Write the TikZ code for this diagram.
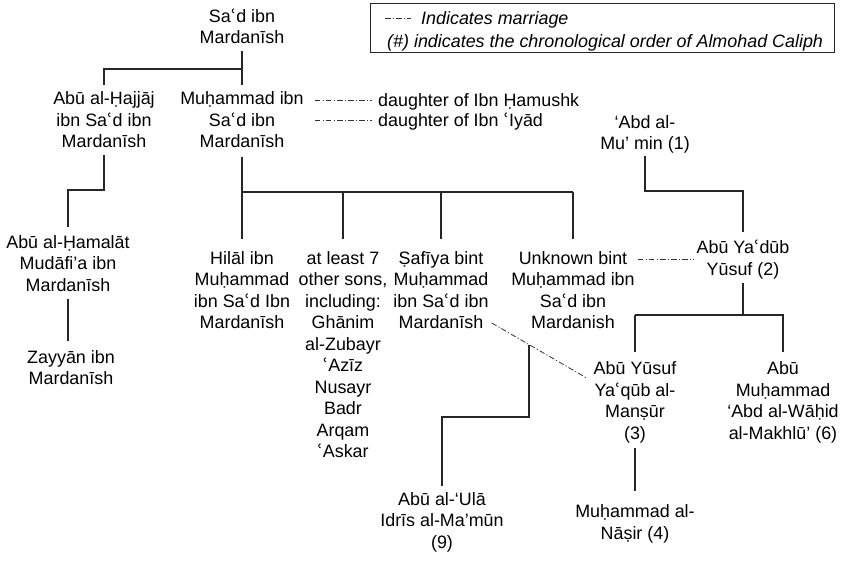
\documentclass[tikz,border=0pt]{standalone}
\usepackage{fontspec}
\setmainfont{Liberation Sans}
\newfontfamily\dvfont{DejaVu Sans}
\usetikzlibrary{calc}
\newcommand\ayn{{\dvfont\symbol{"02BF}}}
\begin{document}
\begin{tikzpicture}[x=1pt,y=-1pt,
  every node/.style={font=\fontsize{17.9}{21.5}\selectfont, text=black, align=center, inner sep=0pt, text depth=0pt},
  tree/.style={line width=1.2pt, draw=black!85},
  marr/.style={line width=0.8pt, draw=black!80, dash pattern=on 5.5pt off 2.2pt on 1.2pt off 2.2pt}]
\useasboundingbox (0,0) rectangle (844,562);

% legend
\node[draw=black!85, line width=1pt, minimum width=464pt, minimum height=49pt, anchor=north west] (legend) at (370,3) {};
\coordinate (lg1) at (385,18);
\coordinate (lg2) at (411,18);
\draw[marr] (lg1) -- (lg2);
\node[anchor=west] (lt1) at (421,18) {\itshape Indicates marriage};
\node[anchor=west] (lt2) at (387,41) {\itshape (\#) indicates the chronological order of Almohad Caliph};

% people
\node (sad) at (242,26) {Sa\ayn d ibn\\Mardanīsh};
\node (hajjaj) at (104,120) {Abū al-Ḥajjāj\\ibn Sa\ayn d ibn\\Mardanīsh};
\node (muh) at (242,120) {Muḥammad ibn\\Sa\ayn d ibn\\Mardanīsh};
\node[anchor=west] (d1) at (378,100) {daughter of Ibn Ḥamushk};
\node[anchor=west] (d2) at (378,120) {daughter of Ibn \ayn Iyād};
\node (abd) at (645,132.5) {‘Abd al-\\Mu’ min (1)};
\node (yusuf) at (743,257.5) {Abū Ya\ayn dūb\\Yūsuf (2)};
\node (hamalat) at (68,263.5) {Abū al-Ḥamalāt\\Mudāfi’a ibn\\Mardanīsh};
\node (zayyan) at (71,367.5) {Zayyān ibn\\Mardanīsh};
\node (hilal) at (242,290) {Hilāl ibn\\Muḥammad\\ibn Sa\ayn d Ibn\\Mardanīsh};
\node (sons) at (343,354.75) {at least 7\\other sons,\\including:\\Ghānim\\al-Zubayr\\\ayn Azīz\\Nusayr\\Badr\\Arqam\\\ayn Askar};
\node (safiya) at (441,290) {Ṣafīya bint\\Muḥammad\\ibn Sa\ayn d ibn\\Mardanīsh};
\node (unknown) at (573,290) {Unknown bint\\Muḥammad ibn\\Sa\ayn d ibn\\Mardanish};
\node (mansur) at (635,400.5) {Abū Yūsuf\\Ya\ayn qūb al-\\Manṣūr\\(3)};
\node (wahid) at (783,400.5) {Abū\\Muḥammad\\‘Abd al-Wāḥid\\al-Makhlū’ (6)};
\node (nasir) at (635,522) {Muḥammad al-\\Nāṣir (4)};
\node (idris) at (442,520.5) {Abū al-‘Ulā\\Idrīs al-Ma’mūn\\(9)};

% row levels
\coordinate (r1) at (0,69);
\coordinate (r2) at (0,190);
\coordinate (r3) at (0,192);
\coordinate (r4) at (0,191);
\coordinate (r5) at (0,259);
\coordinate (r6) at (0,315);
\coordinate (r7) at (0,417);

% descent lines
\draw[tree, shorten <=7pt, shorten >=6.5pt] (sad.south) -- (muh.north);
\draw[tree, shorten <=6.5pt] (hajjaj.north) |- (muh.north |- r1);
\draw[tree, shorten <=7pt, shorten >=8.5pt] (hajjaj.south) |- (hamalat.north |- r2) -- (hamalat.north);
\draw[tree, shorten <=7.75pt, shorten >=8.75pt] (hamalat.south) -- (hamalat.south |- zayyan.north);
\draw[tree, shorten <=8.5pt, shorten >=12.5pt] (muh.south) -- (hilal.north);
\draw[tree] (muh.south |- r3) -- (unknown.north |- r3);
\draw[tree, shorten >=12.5pt] (sons.north |- r3) -- (sons.north);
\draw[tree, shorten >=12.5pt] (safiya.north |- r3) -- (safiya.north);
\draw[tree, shorten >=12.5pt] (unknown.north |- r3) -- (unknown.north);
\draw[tree, shorten <=6pt, shorten >=7.75pt] (abd.south) |- (yusuf.north |- r4) -- (yusuf.north);
\draw[tree, shorten <=7.75pt] (yusuf.south) -- (yusuf.south |- r6);
\draw[tree, shorten >=9.75pt] (mansur.north |- r6) -| (wahid.north);
\draw[tree, shorten >=9.75pt] (mansur.north |- r6) -- (mansur.north);
\draw[tree, shorten <=8.75pt, shorten >=13.75pt] (mansur.south) -- (nasir.north);

% marriages
\draw[marr, shorten <=11pt, shorten >=6pt] (muh.east |- d1.west) -- (d1.west);
\draw[marr, shorten <=11pt, shorten >=6pt] (muh.east |- d2.west) -- (d2.west);
\draw[marr, shorten <=3pt, shorten >=2pt] (unknown.east |- r5) -- (yusuf.west |- r5);
\coordinate (ms) at ($(safiya.south east)+(3,-6)$);
\coordinate (me) at ($(mansur.west)+(-6,-22)$);
\draw[marr] (ms) -- (me);
\coordinate (mj) at ($(ms)!0.39!(me)$);
\draw[tree, shorten >=6.75pt] (mj) |- (idris.north |- r7) -- (idris.north);
\end{tikzpicture}
\end{document}
